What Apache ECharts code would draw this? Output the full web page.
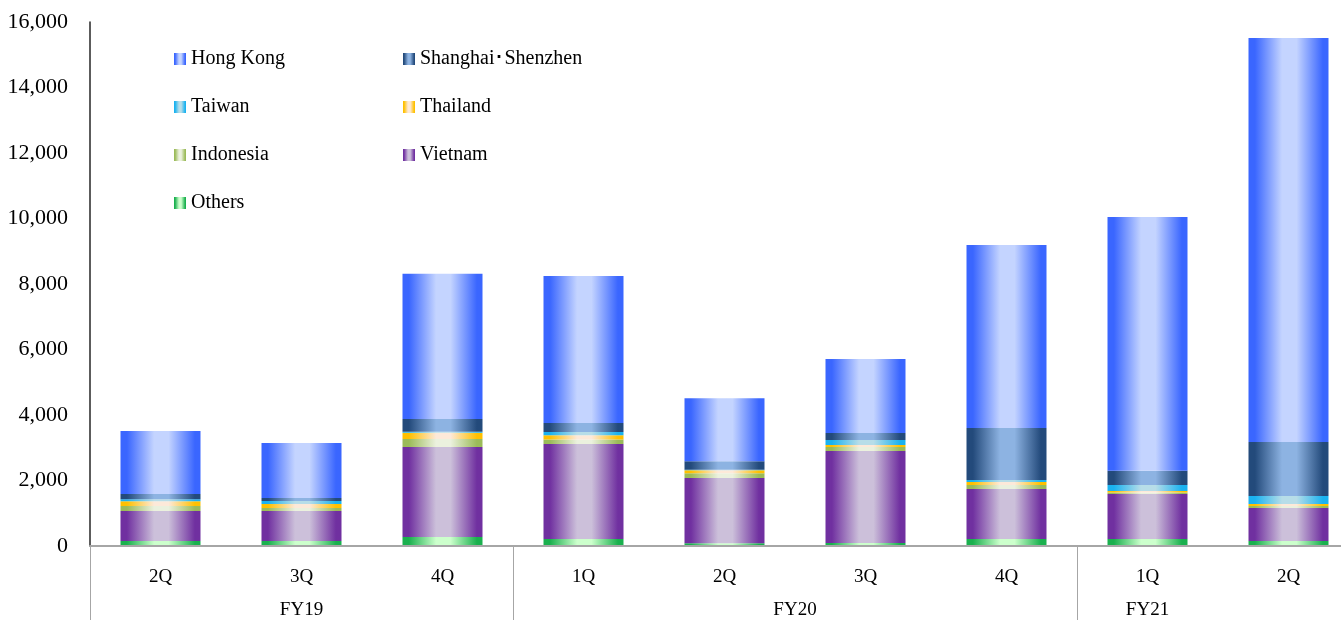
<!DOCTYPE html>
<html>
<head>
<meta charset="utf-8">
<script src="https://cdn.jsdelivr.net/npm/echarts@6/dist/echarts.min.js"></script>
<style>
  html, body { margin: 0; padding: 0; background: #ffffff; }
  #chart { width: 1341px; height: 620px; }
</style>
</head>
<body>
<div id="chart"></div>
<script>
// Quarterly breakdown by market
const quarters = ['2Q', '3Q', '4Q', '1Q', '2Q', '3Q', '4Q', '1Q', '2Q'];
const fiscalYears = ['FY19', 'FY20', 'FY21'];
const yearGroupSizes = [3, 4, 2];

const others    = [150, 150, 275, 215, 85, 90, 215, 215, 150];
const vietnam   = [920, 920, 2750, 2900, 1990, 2810, 1525, 1375, 1010];
const indonesia = [150, 90, 245, 140, 150, 120, 120, 40, 60];
const thailand  = [150, 120, 185, 125, 90, 65, 95, 50, 60];
const taiwan    = [60, 95, 30, 100, 15, 150, 60, 185, 245];
const shanghai  = [155, 90, 395, 275, 260, 215, 1590, 430, 1650];
const hongKong  = [1925, 1680, 4430, 4490, 1925, 2260, 5585, 7750, 12335];

const yTicks = { min: 0, max: 16000, interval: 2000 };

// Horizontal "cylinder" shading: dark edges, pale middle
function shade(edge, mid) {
  return {
    type: 'linear', x: 0, y: 0, x2: 1, y2: 0,
    colorStops: [
      { offset: 0, color: edge },
      { offset: 0.08, color: edge },
      { offset: 0.42, color: mid },
      { offset: 0.6, color: mid },
      { offset: 0.93, color: edge },
      { offset: 1, color: edge }
    ]
  };
}

const seriesDefs = [
  { name: 'Others',            data: others,    color: shade('#1ab04e', '#ccffcc') },
  { name: 'Vietnam',           data: vietnam,   color: shade('#7030a0', '#ccc0da') },
  { name: 'Indonesia',         data: indonesia, color: shade('#9bbb59', '#ebf1de') },
  { name: 'Thailand',          data: thailand,  color: shade('#ffc000', '#fde9d9') },
  { name: 'Taiwan',            data: taiwan,    color: shade('#1ab2f0', '#b7dde8') },
  { name: 'Shanghai･Shenzhen', data: shanghai,  color: shade('#234a7b', '#8db3e2') },
  { name: 'Hong Kong',         data: hongKong,  color: shade('#3a66ff', '#c4d4ff') }
];

// Group boundaries and label slots along the quarter axis
const groupStarts = [];
let acc = 0;
yearGroupSizes.forEach(s => { groupStarts.push(acc); acc += s; });
const yearLabelSlots = [1.5, 5, 7.5];

const font = '"Liberation Serif", "Times New Roman", serif';
const legendText = { fontFamily: font, fontSize: 20, color: '#000000' };

const chart = echarts.init(document.getElementById('chart'), null, { renderer: 'canvas' });

chart.setOption({
  animation: false,
  backgroundColor: '#ffffff',
  grid: { left: 90, top: 22, width: 1269, height: 524, outerBoundsMode: 'none', containLabel: false },
  legend: [
    {
      orient: 'vertical', left: 169, top: 44,
      itemWidth: 12, itemHeight: 12, itemGap: 28,
      data: ['Hong Kong', 'Taiwan', 'Indonesia', 'Others'],
      textStyle: legendText, icon: 'rect', selectedMode: false
    },
    {
      orient: 'vertical', left: 398, top: 44,
      itemWidth: 12, itemHeight: 12, itemGap: 28,
      data: ['Shanghai･Shenzhen', 'Thailand', 'Vietnam'],
      textStyle: legendText, icon: 'rect', selectedMode: false
    }
  ],
  xAxis: [
    {
      type: 'category',
      data: quarters,
      position: 'bottom',
      z: 5,
      axisLine: { show: true, lineStyle: { color: '#a6a6a6', width: 2 } },
      axisTick: { show: false },
      axisLabel: { fontFamily: font, fontSize: 19, color: '#000000', margin: 22 }
    },
    {
      type: 'value',
      min: 0,
      max: quarters.length,
      position: 'bottom',
      z: 5,
      axisLine: { show: false },
      splitLine: { show: false },
      axisTick: {
        show: true, length: 80, inside: false,
        customValues: groupStarts,
        lineStyle: { color: '#a6a6a6', width: 1 }
      },
      axisLabel: {
        fontFamily: font, fontSize: 19, color: '#000000', margin: 55,
        customValues: yearLabelSlots,
        formatter: v => {
          const i = yearLabelSlots.indexOf(v);
          return i >= 0 ? fiscalYears[i] : '';
        }
      }
    }
  ],
  yAxis: {
    type: 'value',
    min: yTicks.min, max: yTicks.max, interval: yTicks.interval,
    axisLine: { show: true, lineStyle: { color: '#262626', width: 1.5 } },
    axisTick: { show: false },
    splitLine: { show: false },
    axisLabel: {
      fontFamily: font, fontSize: 22, color: '#000000', margin: 22,
      padding: [4, 0, 0, 0],
      formatter: v => v.toLocaleString('en-US')
    }
  },
  series: seriesDefs.map(s => ({
    name: s.name,
    type: 'bar',
    stack: 'total',
    xAxisIndex: 0,
    barWidth: 80,
    data: s.data,
    itemStyle: { color: s.color },
    emphasis: { disabled: true }
  }))
});
</script>
</body>
</html>
